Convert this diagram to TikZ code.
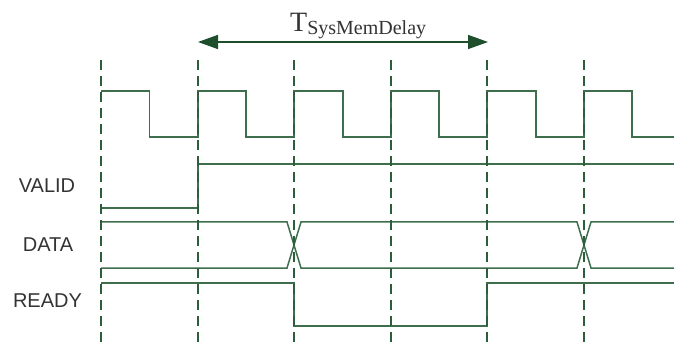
\documentclass[tikz,border=0pt]{standalone}
\usepackage{fontspec}
\setmainfont{Liberation Serif}
\setsansfont{Liberation Sans}
\usetikzlibrary{arrows.meta}
\definecolor{sig}{HTML}{3F6E4D}
\definecolor{grid}{HTML}{2C5E3C}
\definecolor{arr}{HTML}{1E4F2C}
\definecolor{txt}{HTML}{333333}
\begin{document}
\begin{tikzpicture}[x=1pt,y=-1pt,
  signal/.style={draw=sig,line width=1.5pt,line join=miter},
  gridline/.style={draw=grid,line width=1.4pt,dash pattern=on 10pt off 6pt},
  siglabel/.style={font=\sffamily\fontsize{20}{20}\selectfont,text=txt,inner sep=0pt},
  delay/.style={draw=arr,line width=1.5pt,{Triangle[length=20pt,width=14pt]}-{Triangle[length=20pt,width=14pt]}}]
\useasboundingbox (0,0) rectangle (674,347);
% clock
\draw[signal] (101,91) -- (149.5,91) -- (149.5,137) -- (198,137) -- (198,91)
  -- (246,91) -- (246,137) -- (294,137) -- (294,91)
  -- (343,91) -- (343,137) -- (391,137) -- (391,91)
  -- (439,91) -- (439,137) -- (487,137) -- (487,91)
  -- (536,91) -- (536,137) -- (584,137) -- (584,91)
  -- (632,91) -- (632,137) -- (674,137);
% VALID
\draw[signal] (101,208) -- (198,208) -- (198,164) -- (674,164);
% DATA
\draw[signal] (101,222) -- (287,222) -- (301,268) -- (577,268) -- (591,222) -- (674,222);
\draw[signal] (101,268) -- (287,268) -- (301,222) -- (577,222) -- (591,268) -- (674,268);
% READY
\draw[signal] (101,283) -- (294,283) -- (294,326) -- (487,326) -- (487,283) -- (674,283);
% grid lines
\foreach \x in {101,198,294,391,487,584}
  \draw[gridline] (\x,60) -- (\x,347);
% labels
\node[siglabel] (valid) at (47,185.5) {VALID};
\node[siglabel] (data) at (48,244.5) {DATA};
\node[siglabel] (ready) at (47.5,300.5) {READY};
% delay arrow
\coordinate (dL) at (198,42);
\coordinate (dR) at (488,42);
\draw[delay] (dL) -- (dR);
\node[anchor=base west,inner sep=0pt,text=txt] (tlabel) at (290,32)
  {\fontsize{28}{28}\selectfont T\raisebox{-3pt}{\fontsize{20}{20}\selectfont SysMemDelay}};
\end{tikzpicture}
\end{document}
